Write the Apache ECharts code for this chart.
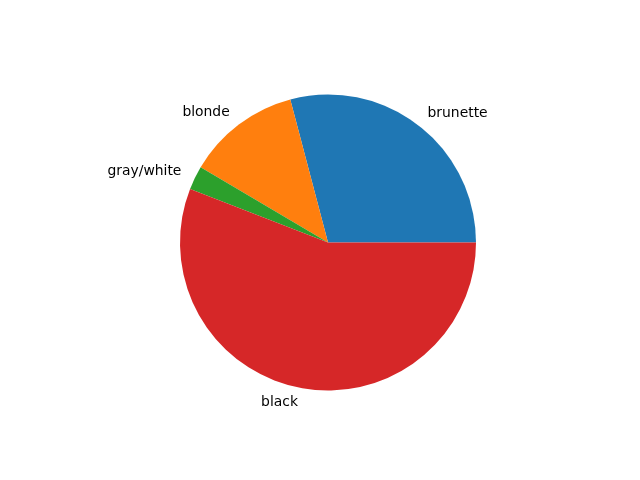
<!DOCTYPE html>
<html>
<head>
<meta charset="utf-8">
<script src="https://cdn.jsdelivr.net/npm/echarts@6/dist/echarts.min.js"></script>
<style>
html,body{margin:0;padding:0;background:#fff;}
#main{width:640px;height:480px;}
</style>
</head>
<body>
<div id="main"></div>
<script>
// 数据
var hairColors = ['brunette', 'blonde', 'gray/white', 'black'];
var shares = [29.1, 12.4, 2.6, 55.9];
var sliceColors = ['#1f77b4', '#ff7f0e', '#2ca02c', '#d62728'];

var chart = echarts.init(document.getElementById('main'));
var pieData = [];
for (var i = 0; i < hairColors.length; i++) {
    pieData.push({
        name: hairColors[i],
        value: shares[i],
        itemStyle: { color: sliceColors[i] }
    });
}

option = {
    animation: false,
    backgroundColor: '#ffffff',
    series: [{
        type: 'pie',
        center: [328, 242.5],
        radius: 148,
        startAngle: 0,
        clockwise: false,
        avoidLabelOverlap: false,
        itemStyle: { borderWidth: 0 },
        label: {
            show: true,
            position: 'outside',
            formatter: '{b}',
            color: '#000',
            fontFamily: 'DejaVu Sans',
            fontSize: 13.9,
            distanceToLabelLine: 0
        },
        labelLine: {
            show: false,
            length: 15,
            length2: 0
        },
        emphasis: { disabled: true },
        data: pieData
    }]
};
chart.setOption(option);
</script>
</body>
</html>
